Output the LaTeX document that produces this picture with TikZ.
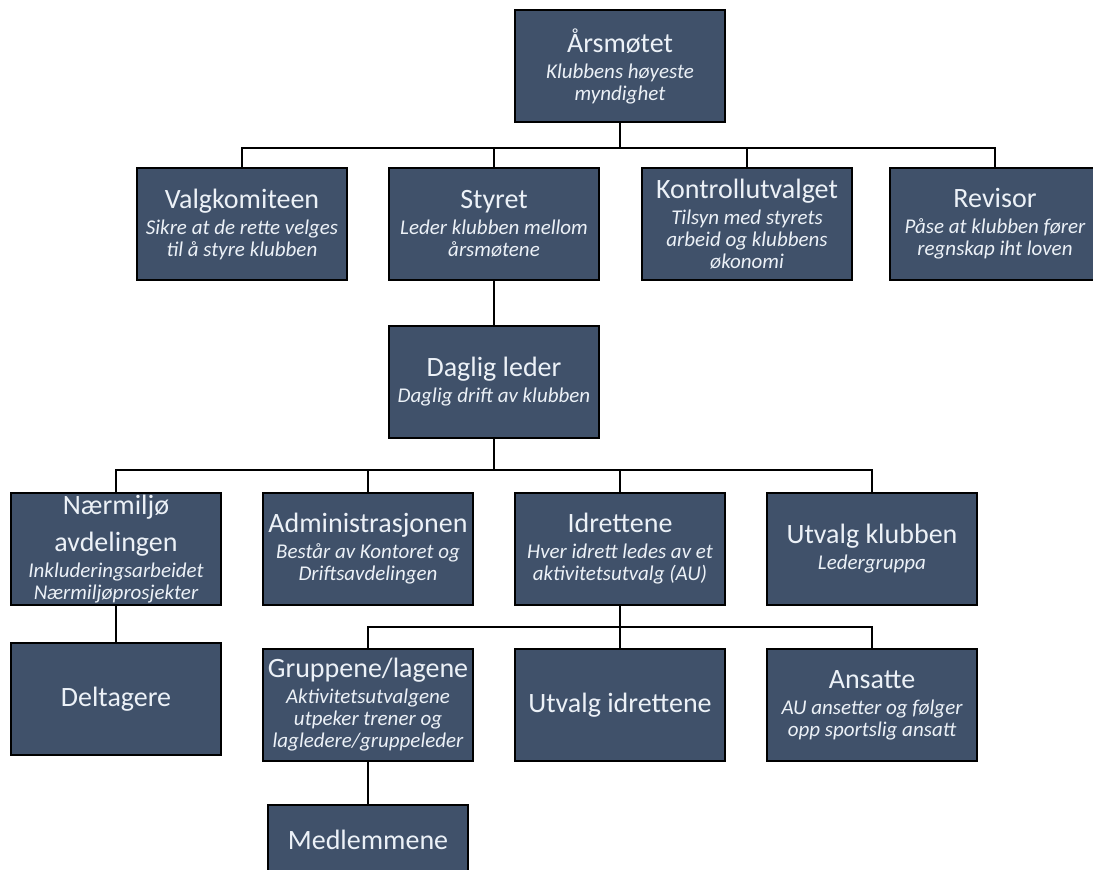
\documentclass[tikz,border=0pt]{standalone}
\usepackage{fontspec}
\setmainfont{Carlito}
\usepackage{xcolor}
\usetikzlibrary{positioning, calc}

\definecolor{boxfill}{RGB}{64,81,106}
\definecolor{boxtext}{RGB}{236,241,247}

% italic description line
\newcommand{\sbt}{\fontsize{10.5}{11}\selectfont\itshape}

\begin{document}
\begin{tikzpicture}[x=0.5pt, y=-0.5pt,
    orgbox/.style={draw=black, line width=1.1pt, fill=boxfill, text=boxtext,
        minimum width=105pt, minimum height=56pt,
        inner xsep=0.5pt, inner ysep=1pt, align=center,
        font=\fontsize{14}{11}\selectfont},
    link/.style={draw=black, line width=1.1pt}]
    \useasboundingbox (0,0) rectangle (1093,870);
    \clip (0,0) rectangle (1093,870);

    % Top
    \node[orgbox] (aars) at (620,66) {Årsmøtet\\[2pt]\sbt Klubbens høyeste\\\sbt myndighet};

    % Second row
    \node[orgbox] (valg) at (242,224) {Valgkomiteen\\[2pt]\sbt Sikre at de rette velges\\\sbt til å styre klubben};
    \node[orgbox] (styret) at (494,224) {Styret\\[2pt]\sbt Leder klubben mellom\\\sbt årsmøtene};
    \node[orgbox] (kontroll) at (747,224) {Kontrollutvalget\\[2pt]\sbt Tilsyn med styrets\\\sbt arbeid og klubbens\\\sbt økonomi};
    \node[orgbox] (revisor) at (995,224) {Revisor\\[2pt]\sbt Påse at klubben fører\\\sbt regnskap iht loven};

    % Daily management
    \node[orgbox] (daglig) at (494,382) {Daglig leder\\[2pt]\sbt Daglig drift av klubben};

    % Departments
    \node[orgbox] (naer) at (116,549) {Nærmiljø\\[5pt]avdelingen\\[2pt]\sbt Inkluderingsarbeidet\\\sbt Nærmiljøprosjekter};
    \node[orgbox] (admin) at (368,549) {Administrasjonen\\[2pt]\sbt Består av Kontoret og\\\sbt Driftsavdelingen};
    \node[orgbox] (idrett) at (620,549) {Idrettene\\[2pt]\sbt Hver idrett ledes av et\\\sbt aktivitetsutvalg (AU)};
    \node[orgbox] (utvalgk) at (872,549) {Utvalg klubben\\[2pt]\sbt Ledergruppa};

    % Bottom rows
    \node[orgbox] (delt) at (116,699) {Deltagere};
    \node[orgbox] (grupp) at (368,705) {Gruppene/lagene\\[2pt]\sbt Aktivitetsutvalgene\\\sbt utpeker trener og\\\sbt lagledere/gruppeleder};
    \node[orgbox] (utvalgi) at (620,705) {Utvalg idrettene};
    \node[orgbox] (ansatte) at (872,705) {Ansatte\\[2pt]\sbt AU ansetter og følger\\\sbt opp sportslig ansatt};
    \node[orgbox, minimum width=100pt, minimum height=35pt] (medl) at (368,840) {Medlemmene};

    % Connectors
    \coordinate (bus1) at (620,148);
    \coordinate (bus2) at (494,470);
    \coordinate (bus3) at (620,627);
    \draw[link] (aars.south) -- (bus1);
    \draw[link] (valg.north) |- (bus1) -| (revisor.north);
    \draw[link] (styret.north) -- (styret.north |- bus1);
    \draw[link] (kontroll.north) -- (kontroll.north |- bus1);
    \draw[link] (styret.south) -- (daglig.north);
    \draw[link] (daglig.south) -- (bus2);
    \draw[link] (naer.north) |- (bus2) -| (utvalgk.north);
    \draw[link] (admin.north) -- (admin.north |- bus2);
    \draw[link] (idrett.north) -- (idrett.north |- bus2);
    \draw[link] (naer.south) -- (delt.north);
    \draw[link] (idrett.south) -- (bus3);
    \draw[link] (grupp.north) |- (bus3) -| (ansatte.north);
    \draw[link] (bus3) -- (utvalgi.north);
    \draw[link] (grupp.south) -- (medl.north);
\end{tikzpicture}
\end{document}
